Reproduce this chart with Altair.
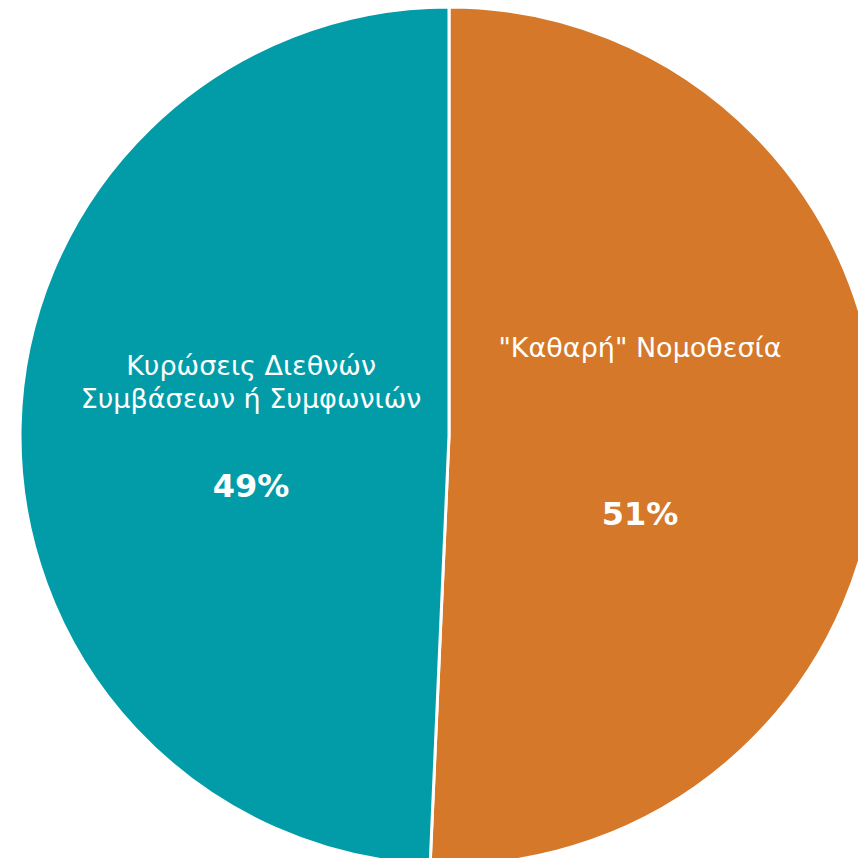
import altair as alt
import pandas as pd

categories = ['"Καθαρή" Νομοθεσία', 'Κυρώσεις Διεθνών Συμβάσεων ή Συμφωνιών']
labels = ['"Καθαρή" Νομοθεσία', 'Κυρώσεις Διεθνών\nΣυμβάσεων ή Συμφωνιών']
values = [50.7, 49.3]
pct_labels = ["51%", "49%"]
colors = ["#D57829", "#029CA8"]
order = [0, 1]

df = pd.DataFrame({"cat": categories, "label": labels, "value": values,
                   "pct": pct_labels, "order": order})

CX, CY = 441, 428
FONT = "DejaVu Sans"

pie = alt.Chart(df).mark_arc(outerRadius=429, stroke="white", strokeWidth=3).encode(
    theta=alt.Theta("value:Q", stack=True, scale=alt.Scale(domain=[0, 100])),
    order=alt.Order("order:Q"),
    color=alt.Color("cat:N", scale=alt.Scale(domain=categories, range=colors), legend=None),
    x=alt.value(CX), y=alt.value(CY),
)

base = alt.Chart(df).transform_window(
    cum="sum(value)", sort=[{"field": "order"}], frame=[None, 0]
).transform_calculate(mid="datum.cum - datum.value / 2")


def txt(idx, field, radius, dy, size, weight):
    return base.transform_filter(alt.datum.order == idx).mark_text(
        radius=radius, dy=dy, fontSize=size, fontWeight=weight, font=FONT,
        color="white", baseline="alphabetic", align="center", lineBreak="\n",
        lineHeight=33,
    ).encode(
        theta=alt.Theta("mid:Q", stack=False, scale=alt.Scale(domain=[0, 100])),
        text=alt.Text(f"{field}:N"),
        x=alt.value(CX), y=alt.value(CY),
    )


layers = [
    pie,
    txt(0, "label", 191, -83, 27, "normal"),
    txt(0, "pct", 191, 85, 32, "bold"),
    txt(1, "label", 198, -57, 27, "normal"),
    txt(1, "pct", 198, 65, 32, "bold"),
]

chart = alt.layer(*layers).properties(
    width=850, height=850, padding=0,
    autosize=alt.AutoSizeParams(type="none"),
).configure_view(stroke=None)

chart.save("out.html", embed_options={"renderer": "svg", "actions": False})
